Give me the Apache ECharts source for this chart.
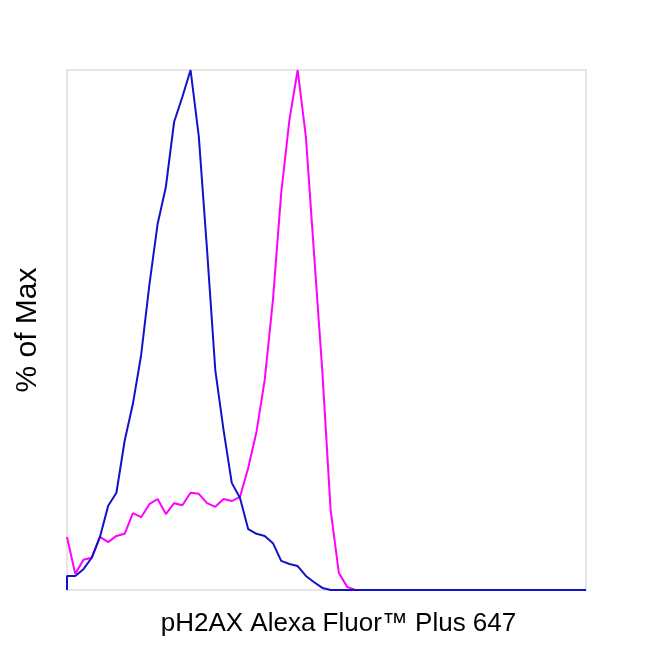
<!DOCTYPE html>
<html>
<head>
<meta charset="utf-8">
<script src="https://cdn.jsdelivr.net/npm/echarts@6/dist/echarts.min.js"></script>
<style>
  html, body { margin: 0; padding: 0; background: #fff; }
  #chart { width: 650px; height: 650px; }
</style>
</head>
<body>
<div id="chart"></div>
<script>
// histogram bins (64 channels), values in % of max
const binCount = 64;
const blueValues = [
  0, 2.7, 2.7, 4.0, 6.2, 10.2, 16.2, 18.7, 28.7, 35.8,
  45.2, 58.7, 70.4, 77.5, 90.0, 94.8, 100, 87.2, 65.4, 42.3,
  30.8, 20.6, 17.7, 11.7, 10.8, 10.4, 9.0, 5.6, 5.0, 4.6,
  2.7, 1.5, 0.4, 0
];
// first two blue points share x = 0 (line rises from the baseline)
const blueBins = [0, 0, 1, 2, 3, 4, 5, 6, 7, 8, 9, 10, 11, 12, 13, 14, 15, 16, 17, 18,
  19, 20, 21, 22, 23, 24, 25, 26, 27, 28, 29, 30, 31, 32];
const magentaValues = [
  10.2, 3.1, 5.8, 6.2, 10.2, 9.2, 10.4, 10.8, 14.8, 14.0,
  16.5, 17.5, 14.6, 16.7, 16.3, 18.7, 18.5, 16.7, 16.0, 17.5,
  17.1, 17.9, 23.5, 30.4, 40.4, 55.8, 76.3, 90.4, 100, 87.1,
  64.4, 41.9, 15.4, 3.3, 0.6, 0
];

function toPairs(bins, vals) {
  const out = [];
  for (let i = 0; i < vals.length; i++) out.push([bins[i], vals[i]]);
  return out;
}
function withTail(pairs) {
  // flat zero baseline to the last channel
  const last = pairs[pairs.length - 1][0];
  const out = pairs.slice();
  for (let i = last + 1; i < binCount; i++) out.push([i, 0]);
  return out;
}

const magentaData = withTail(toPairs(magentaValues.map((v, i) => i), magentaValues));
const blueData = withTail(toPairs(blueBins, blueValues));

const chart = echarts.init(document.getElementById('chart'));
chart.setOption({
  animation: false,
  grid: {
    left: 67,
    right: 64,
    top: 70,
    bottom: 60,
    show: true,
    borderColor: '#dedede',
    borderWidth: 1.5
  },
  xAxis: {
    type: 'value',
    min: 0,
    max: binCount - 1,
    name: 'pH2AX Alexa Fluor™ Plus 647',
    nameLocation: 'middle',
    nameGap: 21,
    nameTextStyle: { color: '#000', fontSize: 26, fontFamily: 'Liberation Sans', padding: [0, 0, 0, 24] },
    axisLine: { show: false },
    axisTick: { show: false },
    axisLabel: { show: false },
    splitLine: { show: false }
  },
  yAxis: {
    type: 'value',
    min: 0,
    max: 100,
    name: '% of Max',
    nameLocation: 'middle',
    nameGap: 24,
    nameTextStyle: { color: '#000', fontSize: 30, fontFamily: 'Liberation Sans' },
    axisLine: { show: false },
    axisTick: { show: false },
    axisLabel: { show: false },
    splitLine: { show: false }
  },
  series: [
    {
      name: 'magenta',
      type: 'line',
      data: magentaData,
      showSymbol: false,
      lineStyle: { color: '#ff00ff', width: 2 },
      itemStyle: { color: '#ff00ff' }
    },
    {
      name: 'blue',
      type: 'line',
      data: blueData,
      showSymbol: false,
      lineStyle: { color: '#1212cc', width: 2 },
      itemStyle: { color: '#1212cc' }
    }
  ]
});
</script>
</body>
</html>
